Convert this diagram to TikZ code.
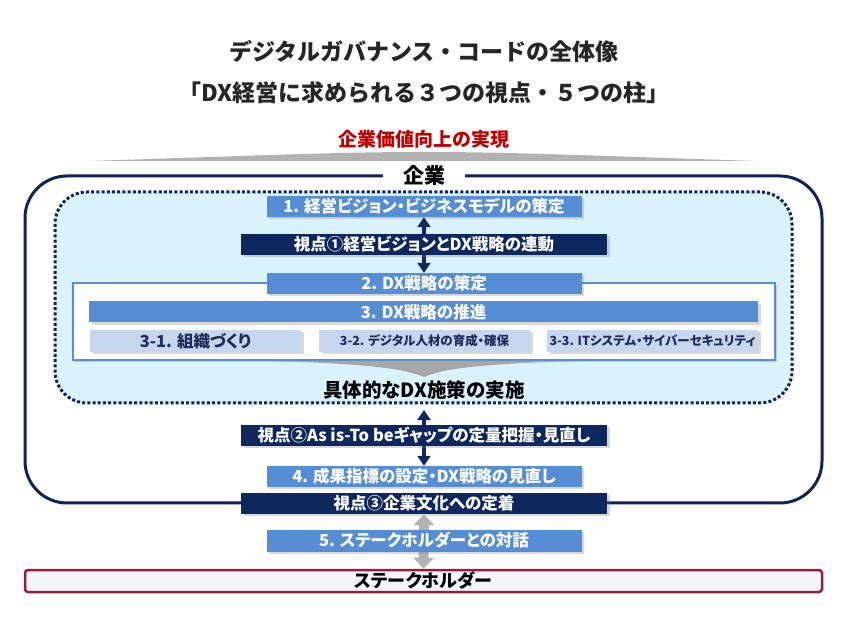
\documentclass[tikz,border=0pt]{standalone}
\usepackage{fontspec}
\usepackage{xcolor}
\usepackage{tikz}
\usetikzlibrary{arrows.meta, calc, shadows}
\newfontfamily\jpfont{Noto Sans CJK JP}[RawFeature=+palt]
\newfontfamily\jpwide{Noto Sans CJK JP}
\definecolor{pillarBlue}{RGB}{85,142,213}
\definecolor{viewNavy}{RGB}{14,40,95}
\definecolor{frameNavy}{RGB}{15,35,90}
\definecolor{areaCyan}{RGB}{218,242,252}
\definecolor{subBlue}{RGB}{198,214,238}
\definecolor{subText}{RGB}{31,45,90}
\definecolor{valueRed}{RGB}{192,0,0}
\definecolor{stakeRed}{RGB}{150,28,62}
\definecolor{stakeFill}{RGB}{242,246,250}
\definecolor{titleInk}{RGB}{38,38,38}

\begin{document}
\begin{tikzpicture}[x=1pt, y=-1pt, line cap=butt,
  pillar/.style={fill=pillarBlue, text=white, minimum width=315pt, minimum height=21pt, inner sep=0pt,
    font=\jpfont\bfseries\fontsize{16.5pt}{17pt}\selectfont,
    drop shadow={shadow xshift=2.5pt, shadow yshift=-2.5pt, opacity=0.3}},
  view/.style={pillar, fill=viewNavy, minimum width=366pt},
  subpillar/.style={pillar, fill=subBlue, text=subText, minimum width=211pt, minimum height=22pt,
    font=\jpfont\bfseries\fontsize{12.5pt}{13pt}\selectfont},
  linkarrow/.style={draw=viewNavy, line width=4pt, {Triangle[width=13pt,length=10pt]}-{Triangle[width=13pt,length=10pt]}},
  grayarrow/.style={draw=black!30, line width=10pt, {Triangle[width=20pt,length=11pt]}-{Triangle[width=20pt,length=11pt]}}]
  \useasboundingbox (0,0) rectangle (847,628);
  % title
  \node[font=\jpwide\bfseries\fontsize{23pt}{24pt}\selectfont, text=titleInk] (title) at (424,52) {デジタルガバナンス・コードの全体像};
  \node[font=\jpwide\bfseries\fontsize{23pt}{24pt}\selectfont, text=titleInk] (subtitle) at (424,93) {「DX経営に求められる３つの視点・５つの柱」};
  \node[font=\jpwide\bfseries\fontsize{19pt}{20pt}\selectfont, text=valueRed] (value) at (424,139) {企業価値向上の実現};
  \fill[black!30] (88,161) .. controls (250,156) and (330,152) .. (424,152) .. controls (518,152) and (598,156) .. (758,161) -- cycle;

  % company frame and the dotted area
  \draw[frameNavy, line width=3pt, rounded corners=42pt] (25,176) rectangle (822,503);
  \node[fill=white, inner xsep=20pt, inner ysep=1pt, font=\jpwide\bfseries\fontsize{21pt}{22pt}\selectfont] (firm) at (424,175) {企業};
  \draw[frameNavy, fill=areaCyan, line width=3pt, dash pattern=on 3pt off 2.2pt, rounded corners=32pt] (55,192) rectangle (792,403);
  \fill[white, draw=pillarBlue, line width=2.5pt, drop shadow={shadow xshift=2pt, shadow yshift=-2pt, opacity=0.3}] (73,283) rectangle (775,360);

  \node[pillar, minimum width=669pt] (p3) at (423.5,312) {3. DX戦略の推進};
  \node[subpillar, font=\jpfont\bfseries\fontsize{16.5pt}{17pt}\selectfont] (p31) at (195.5,341) {3-1. 組織づくり};
  \node[subpillar] (p32) at (424.5,341) {3-2. デジタル人材の育成・確保};
  \node[subpillar] (p33) at (652.5,341) {3-3. ITシステム・サイバーセキュリティ};
  \fill[black!35] (272,361) -- (577,361) .. controls (470,364) and (440,370) .. (424,377) .. controls (408,370) and (378,364) .. cycle;
  \node[font=\jpfont\bfseries\fontsize{19.5pt}{20pt}\selectfont, text=black] (impl) at (424,390) {具体的なDX施策の実施};

  % pillars and viewpoints
  \node[pillar] (p1) at (424,206.5) {1. 経営ビジョン・ビジネスモデルの策定};
  \node[pillar] (p2) at (424,283.5) {2. DX戦略の策定};
  \draw[linkarrow] (p1.south) -- (p2.north);
  \node[view] (v1) at (424,244.5) {視点①経営ビジョンとDX戦略の連動};

  \coordinate (implEnd) at (424,410);
  \node[pillar] (p4) at (424,476.5) {4. 成果指標の設定・DX戦略の見直し};
  \draw[linkarrow] (implEnd) -- (p4.north);
  \node[view] (v2) at (424,435.5) {視点②As is-To beギャップの定量把握・見直し};

  \node[view] (v3) at (424,503.5) {視点③企業文化への定着};
  \node[draw=stakeRed, fill=stakeFill, line width=2.5pt, rounded corners=3pt, minimum width=797pt, minimum height=22pt, inner sep=0pt,
    font=\jpfont\bfseries\fontsize{18pt}{18pt}\selectfont] (stake) at (423.5,581) {ステークホルダー};
  \draw[grayarrow] (v3.south) -- (stake.north);
  \node[pillar, minimum height=22pt] (p5) at (424,540.5) {5. ステークホルダーとの対話};
\end{tikzpicture}
\end{document}
